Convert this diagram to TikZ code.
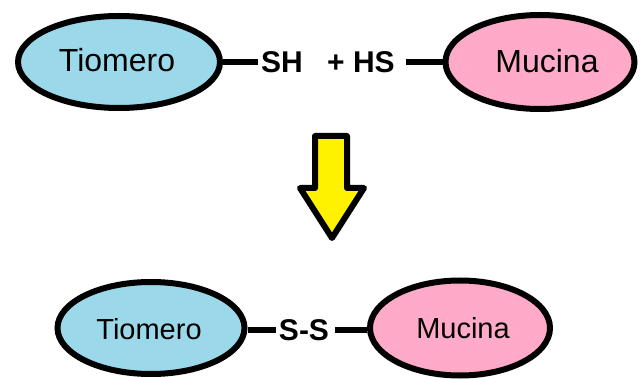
\documentclass[tikz,border=0pt]{standalone}
\usepackage{fontspec}
\setmainfont{Liberation Sans}
\usetikzlibrary{shapes.geometric}
\definecolor{tioblue}{RGB}{155,217,234}
\definecolor{mucpink}{RGB}{255,170,200}
\definecolor{arrowyellow}{RGB}{255,242,0}
\tikzset{
  blob/.style={ellipse, draw=black, line width=6pt, inner sep=0pt},
  blobtext/.style={font=\fontsize{32}{35}\selectfont, inner sep=0pt},
  blobtextsm/.style={font=\fontsize{29}{32}\selectfont, inner sep=0pt},
  grp/.style={font=\bfseries\fontsize{30}{34}\selectfont, inner sep=3pt},
  bond/.style={line width=6pt},
}
\begin{document}
\begin{tikzpicture}[x=1pt,y=-1pt]
\useasboundingbox (0,0) rectangle (640,379);
% top row
\node[blob, fill=tioblue, minimum width=202pt, minimum height=92pt] (t1) at (119,62) {};
\node[blobtext] (t1l) at (117,60) {Tiomero};
\node[blob, fill=mucpink, minimum width=189pt, minimum height=94pt] (m1) at (540,62) {};
\node[blobtext] (m1l) at (547,61) {Mucina};
\node[grp] (sh) at (282,62) {SH};
\node[grp] (hs) at (361,62) {+ HS};
\draw[bond] (t1.east) -- (sh.west);
\draw[bond, shorten <=8pt] (hs.east) -- (m1.west);
% arrow
\draw[line width=6pt, line join=round, fill=arrowyellow]
  (315,136) -- (347,136) -- (347,188) -- (364,188) -- (332,238)
  -- (300,188) -- (315,188) -- cycle;
% bottom row
\node[blob, fill=tioblue, minimum width=187pt, minimum height=92pt] (t2) at (151,328) {};
\node[blobtextsm] (t2l) at (149,329) {Tiomero};
\node[blob, fill=mucpink, minimum width=180pt, minimum height=95pt] (m2) at (460,328) {};
\node[blobtextsm] (m2l) at (463,328) {Mucina};
\node[grp] (ss) at (304,330) {S-S};
\draw[bond] (ss.west -| t2.east) -- (ss.west);
\draw[bond, shorten <=3pt] (ss.east) -- (ss.east -| m2.west);
\end{tikzpicture}
\end{document}
